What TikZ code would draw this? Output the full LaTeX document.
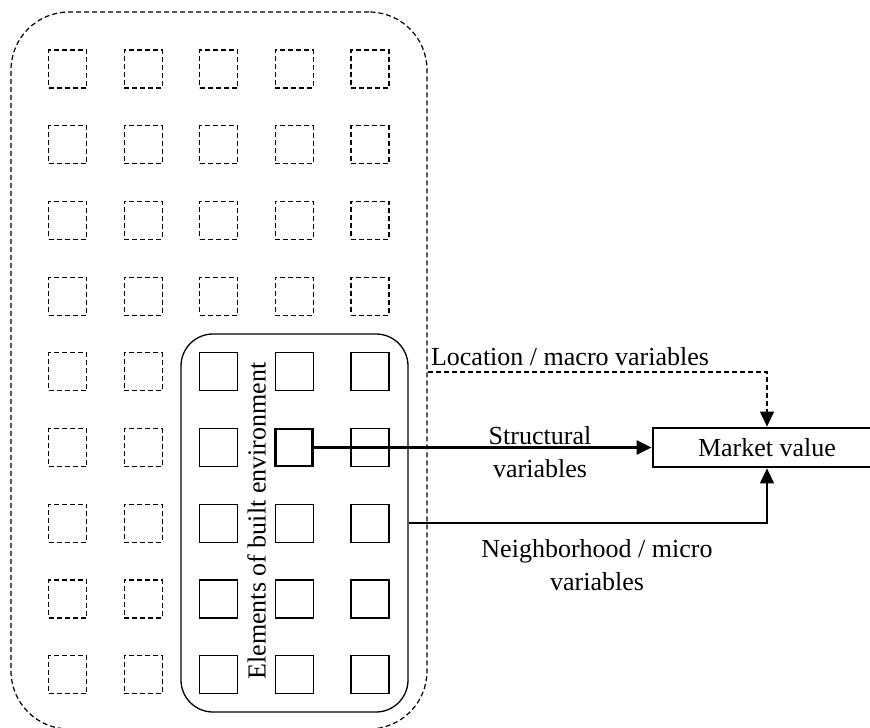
\documentclass[tikz,border=0pt]{standalone}
\usepackage{fontspec}
\setmainfont{Liberation Serif}
\usetikzlibrary{arrows.meta}
\begin{document}
\begin{tikzpicture}[x=1pt,y=-1pt,
  dsh/.style={dash pattern=on 5pt off 3pt},
  ghost/.style={draw, dsh, line width=1.2pt, minimum size=38pt, inner sep=0pt},
  elem/.style={draw, line width=1.3pt, minimum size=38pt, inner sep=0pt},
  hot/.style={draw, line width=2.8pt, minimum size=37pt, inner sep=0pt},
  lbl/.style={font=\fontsize{26}{33}\selectfont, align=center, inner sep=0pt},
  arr/.style={-{Triangle[length=15pt,width=14pt]}}
]
\useasboundingbox (0,0) rectangle (870,728);
\clip (0,0) rectangle (870,728);

% outer dashed region
\node[draw, dsh, line width=1.2pt, rounded corners=58pt, minimum width=416pt, minimum height=717pt, inner sep=0pt] (outer) at (219,370.5) {};
% inner solid region
\node[draw, line width=1.3pt, rounded corners=32pt, minimum width=227pt, minimum height=378pt, inner sep=0pt] (inner) at (294.5,523) {};

% grid of squares
\foreach \r in {1,...,9}{
  \foreach \c in {1,...,5}{
    \pgfmathsetmacro{\cx}{67.5+75.6*(\c-1)}
    \pgfmathsetmacro{\cy}{69+75.7*(\r-1)}
    \ifnum\r>4 \ifnum\c>2
      \ifnum\r=6 \ifnum\c=4
        \node[hot] (s-\r-\c) at (\cx,\cy) {};
      \else
        \node[elem] (s-\r-\c) at (\cx,\cy) {};
      \fi\else
        \node[elem] (s-\r-\c) at (\cx,\cy) {};
      \fi
    \else
      \node[ghost] (s-\r-\c) at (\cx,\cy) {};
    \fi\else
      \node[ghost] (s-\r-\c) at (\cx,\cy) {};
    \fi
  }
}

% market value
\node[draw, line width=2.8pt, minimum width=228pt, minimum height=39pt, inner sep=0pt, lbl] (mv) at (767,447.5) {Market value};

% rotated label
\node[lbl, rotate=90] (elab) at (256.5,521) {Elements of built environment};

% connectors
\coordinate (loc) at (outer.east |- 0,372);
\coordinate (nb) at (inner.east |- 0,523);
\draw[line width=2.6pt, arr] (s-6-4.east) -- (mv.west);
\draw[dsh, line width=1.2pt, arr] (loc) -| (mv.north);
\draw[line width=1.3pt, arr] (nb) -| (mv.south);

% labels
\node[lbl] (loclab) at (570,357) {Location / macro variables};
\node[lbl] (strlab) at (540,452) {Structural\\variables};
\node[lbl] (nblab) at (597,565) {Neighborhood / micro\\variables};
\end{tikzpicture}
\end{document}
